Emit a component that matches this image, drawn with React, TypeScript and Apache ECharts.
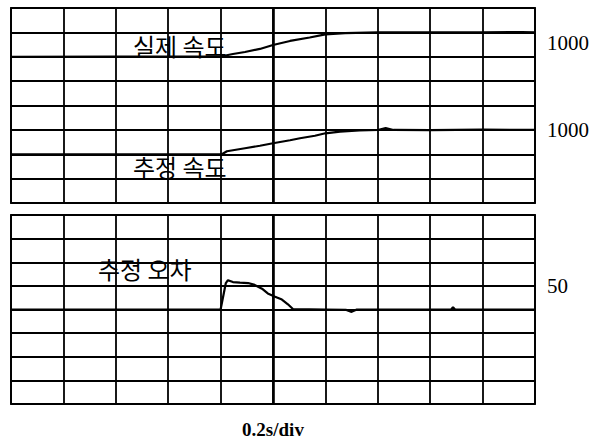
import React, { useEffect, useRef } from "react";
import * as echarts from "echarts";

// time in seconds (0.2 s / div, 10 divisions)
const realTime = [0, 0.4, 0.8, 0.847, 0.893, 0.95, 1.0, 1.065, 1.14, 1.2, 1.275, 1.4, 1.6, 1.8, 1.95, 2.0];
const realSpeed = [500, 502, 505, 557, 598, 660, 742, 824, 895, 960, 985, 998, 1000, 1002, 1008, 1000];

const estTime = [0, 0.4, 0.805, 0.824, 0.893, 0.95, 1.0, 1.065, 1.103, 1.16, 1.2, 1.256, 1.33, 1.4, 1.43, 1.46, 1.6, 1.8, 2.0];
const estSpeed = [500, 500, 500, 561, 623, 674, 725, 787, 828, 879, 930, 965, 988, 997, 1035, 998, 995, 1005, 1000];

const errTime = [0, 0.4, 0.8, 0.82, 0.828, 0.847, 0.874, 0.905, 0.93, 0.958, 0.98, 1.008, 1.034, 1.057, 1.076, 1.2, 1.28, 1.3, 1.32, 1.5, 1.68, 1.687, 1.695, 1.85, 2.0];
const errValue = [0, 0, 0, 56, 62, 58, 57, 56, 52, 44, 34, 27, 21, 11, 1, 0, -1, -5, 0, 0, 0, 5, 0, 0, 0];

const speedLabel = [1000];
const errLabel = [50];

const zip = (xs: number[], ys: number[]) => xs.map((x, i) => [x, ys[i]]);

export default function App() {
  const ref = useRef<HTMLDivElement>(null);
  useEffect(() => {
    if (!ref.current) return;
    const chart = echarts.init(ref.current, null, { renderer: "svg" });
    const lineColor = "#000";
    const gridLine = { show: true, lineStyle: { color: lineColor, width: 1.8 } };
    const xBase = (gi: number) => ({
      type: "value",
      gridIndex: gi,
      min: 0,
      max: 2,
      interval: 0.2,
      axisLine: { show: false },
      axisTick: { show: false },
      axisLabel: { show: false },
      splitLine: gridLine,
    });
    const labelStyle = {
      fontFamily: "Liberation Serif",
      fontSize: 21,
      color: "#000",
    };
    const koStyle = { fontFamily: "Noto Sans CJK KR", fontSize: 24, fill: "#000" };
    const option: any = {
      animation: false,
      backgroundColor: "#fff",
      grid: [
        { left: 11, top: 8, width: 524, height: 195, show: true, borderColor: lineColor, borderWidth: 1.8 },
        { left: 11, top: 215, width: 524, height: 197, show: true, borderColor: lineColor, borderWidth: 1.8 },
      ],
      xAxis: [
        xBase(0),
        {
          ...xBase(1),
          name: "0.2s/div",
          nameLocation: "middle",
          nameGap: 16,
          nameTextStyle: { fontFamily: "Liberation Serif", fontWeight: "bold", fontSize: 19, color: "#000" },
        },
      ],
      yAxis: [
        {
          type: "value",
          gridIndex: 0,
          position: "right",
          min: -2500,
          max: 1500,
          interval: 500,
          axisLine: { show: false },
          axisTick: { show: true, length: 3, lineStyle: { color: lineColor, width: 1.5 } },
          splitLine: gridLine,
          axisLabel: {
            ...labelStyle,
            margin: 12,
            verticalAlign: "top",
            formatter: (v: number) => (speedLabel.includes(v) ? String(v) : ""),
          },
        },
        {
          type: "value",
          gridIndex: 0,
          position: "right",
          min: -500,
          max: 3500,
          interval: 500,
          axisLine: { show: false },
          axisTick: { show: false },
          splitLine: { show: false },
          axisLabel: {
            ...labelStyle,
            margin: 12,
            formatter: (v: number) => (speedLabel.includes(v) ? String(v) : ""),
          },
        },
        {
          type: "value",
          gridIndex: 1,
          position: "right",
          min: -200,
          max: 200,
          interval: 50,
          axisLine: { show: false },
          axisTick: { show: true, length: 3, lineStyle: { color: lineColor, width: 1.5 } },
          splitLine: gridLine,
          axisLabel: {
            ...labelStyle,
            margin: 12,
            formatter: (v: number) => (errLabel.includes(v) ? String(v) : ""),
          },
        },
      ],
      series: [
        {
          name: "실제 속도",
          type: "line",
          xAxisIndex: 0,
          yAxisIndex: 0,
          data: zip(realTime, realSpeed),
          showSymbol: false,
          lineStyle: { color: lineColor, width: 2.2 },
          markLine: {
            silent: true,
            symbol: "none",
            label: { show: false },
            lineStyle: { color: lineColor, width: 2.6, type: "solid" },
            data: [{ xAxis: 1.0 }],
          },
        },
        {
          name: "추정 속도",
          type: "line",
          xAxisIndex: 0,
          yAxisIndex: 1,
          data: zip(estTime, estSpeed),
          showSymbol: false,
          lineStyle: { color: lineColor, width: 2.2 },
        },
        {
          name: "추정 오차",
          type: "line",
          xAxisIndex: 1,
          yAxisIndex: 2,
          data: zip(errTime, errValue),
          showSymbol: false,
          lineStyle: { color: lineColor, width: 2.2 },
          markLine: {
            silent: true,
            symbol: "none",
            label: { show: false },
            lineStyle: { color: lineColor, width: 2.6, type: "solid" },
            data: [{ xAxis: 1.0 }],
          },
        },
      ],
      graphic: [
        { type: "text", left: 133, top: 33, style: { text: "실제 속도", ...koStyle } },
        { type: "text", left: 133, top: 154, style: { text: "추정 속도", ...koStyle } },
        { type: "text", left: 98, top: 256, style: { text: "추정 오차", ...koStyle } },
      ],
    };
    chart.setOption(option);
    return () => chart.dispose();
  }, []);
  return (
    <div
      ref={ref}
      style={{ position: "fixed", left: 0, top: 0, width: 606, height: 440, background: "#fff" }}
    />
  );
}
